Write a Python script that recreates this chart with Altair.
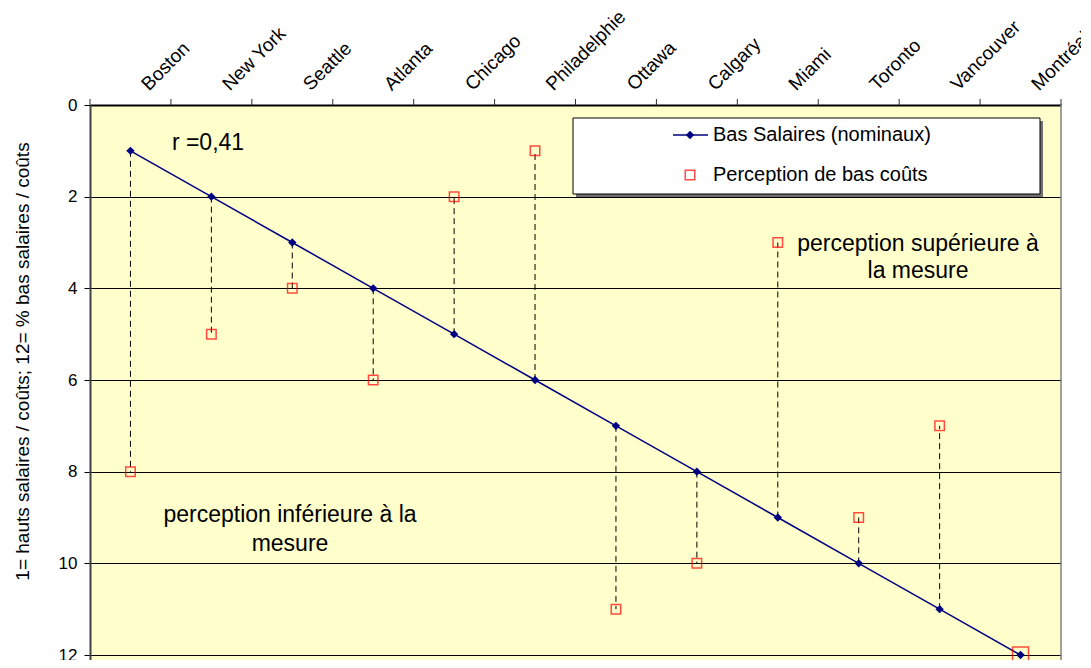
import altair as alt
import pandas as pd

cities = ["Boston", "New York", "Seattle", "Atlanta", "Chicago", "Philadelphie",
          "Ottawa", "Calgary", "Miami", "Toronto", "Vancouver", "Montréal"]
salaires = [1, 2, 3, 4, 5, 6, 7, 8, 9, 10, 11, 12]
perception = [8, 5, 4, 6, 2, 1, 11, 10, 3, 9, 7, 12]
highlight = [False] * 11 + [True]
y_ticks = [0, 2, 4, 6, 8, 10, 12]
edges = [i - 0.5 for i in range(13)]

df = pd.DataFrame({
    "idx": list(range(len(cities))),
    "city": cities,
    "sal": salaires,
    "perc": perception,
    "hl": highlight,
})
edges_df = pd.DataFrame({"e": edges})
one = pd.DataFrame({"a": [0]})

W, H = 971, 555
FONT = "Liberation Sans"

label_expr = "[" + ",".join('"%s"' % c for c in cities) + "][round(datum.value)]"

xscale = alt.Scale(domain=[-0.5, 11.5], nice=False, zero=False)
yscale = alt.Scale(domain=[0, 12.109], reverse=True, nice=False, zero=False)

x_axis = alt.Axis(
    orient="top", values=list(range(12)), labelExpr=label_expr, ticks=False,
    grid=False, labelAngle=-45, labelAlign="left", labelBaseline="alphabetic",
    labelPadding=14, labelOffset=18, labelFontSize=19, labelFont=FONT,
    labelColor="black", domainColor="black", domainWidth=2, title=None,
    labelOverlap=False, labelBound=False, labelFlush=False)
x_enc = alt.X("idx:Q", scale=xscale, axis=x_axis)
y_enc = alt.Y("sal:Q", scale=yscale, axis=alt.Axis(
    values=y_ticks, grid=True, gridColor="black", gridWidth=1, tickColor="black",
    tickSize=6, domainColor="#404040", domainWidth=2, labelFontSize=17,
    labelFont=FONT, labelColor="black", labelPadding=7,
    title="1=  hauts salaires / coûts; 12= % bas salaires / coûts",
    titleFontSize=19, titleFont=FONT, titleFontWeight="normal", titleColor="black",
    titleX=-58, titleY=256))

base = alt.Chart(df)

ticks = alt.Chart(edges_df).mark_rule(color="#303030", strokeWidth=1).encode(
    x=alt.X("e:Q", scale=xscale, axis=x_axis),
    y=alt.value(-6), y2=alt.value(0))

drops = base.mark_rule(color="black", strokeWidth=1, strokeDash=[6, 4]).encode(
    x=x_enc, y=y_enc, y2="perc:Q")

line = base.mark_line(color="#000080", strokeWidth=1.5).encode(x=x_enc, y=y_enc)

squares = base.mark_point(shape="square", filled=False, color="#FF0000",
                          strokeWidth=1.5).encode(
    x=x_enc,
    y=alt.Y("perc:Q", scale=yscale),
    size=alt.condition("datum.hl", alt.value(256), alt.value(90)))

diamonds = base.mark_point(shape="diamond", filled=True, color="#000080",
                           opacity=1).encode(x=x_enc, y=y_enc, size=alt.value(70))

# right border of plot area
rborder = alt.Chart(one).mark_rule(color="#808080", strokeWidth=1.5).encode(
    x=alt.value(W), y=alt.value(0), y2=alt.value(H))

# legend box
lg_shadow = alt.Chart(one).mark_rect(fill="#707070").encode(
    x=alt.value(486), x2=alt.value(953), y=alt.value(16), y2=alt.value(92))
lg_box = alt.Chart(one).mark_rect(fill="white", stroke="black", strokeWidth=1).encode(
    x=alt.value(483), x2=alt.value(950), y=alt.value(13), y2=alt.value(89))
lg_line = alt.Chart(one).mark_rule(color="#000080", strokeWidth=1.5).encode(
    x=alt.value(583), x2=alt.value(618), y=alt.value(30))
lg_dia = alt.Chart(one).mark_point(shape="diamond", filled=True, color="#000080",
                                   opacity=1).encode(
    x=alt.value(600), y=alt.value(30), size=alt.value(70))
lg_sq = alt.Chart(one).mark_point(shape="square", filled=False, color="#FF0000",
                                  strokeWidth=1.5).encode(
    x=alt.value(600), y=alt.value(70), size=alt.value(90))
lg_t1 = alt.Chart(one).mark_text(align="left", baseline="middle", fontSize=20,
                                 font=FONT, color="black").encode(
    x=alt.value(623), y=alt.value(30), text=alt.value("Bas Salaires (nominaux)"))
lg_t2 = alt.Chart(one).mark_text(align="left", baseline="middle", fontSize=20,
                                 font=FONT, color="black").encode(
    x=alt.value(623), y=alt.value(70), text=alt.value("Perception de bas coûts"))

r_txt = alt.Chart(one).mark_text(align="center", baseline="middle", fontSize=23,
                                 font=FONT, color="black").encode(
    x=alt.value(118), y=alt.value(38), text=alt.value("r =0,41"))
sup_txt = alt.Chart(one).mark_text(align="center", baseline="middle", fontSize=23,
                                   font=FONT, color="black", lineHeight=27).encode(
    x=alt.value(828), y=alt.value(139),
    text=alt.value(["perception supérieure à", "la mesure"]))
inf_txt = alt.Chart(one).mark_text(align="center", baseline="middle", fontSize=23,
                                   font=FONT, color="black", lineHeight=29).encode(
    x=alt.value(200), y=alt.value(410),
    text=alt.value(["perception inférieure à la", "mesure"]))

chart = alt.layer(
    ticks, drops, line, squares, diamonds, rborder,
    lg_shadow, lg_box, lg_line, lg_dia, lg_sq, lg_t1, lg_t2,
    r_txt, sup_txt, inf_txt,
).properties(
    width=W, height=H,
    autosize=alt.AutoSizeParams(type="none"),
    padding={"left": 82, "top": 97, "right": 20, "bottom": 0},
).configure_view(fill="#FFFFCC", stroke=None)

chart.save("out.html", embed_options={"renderer": "svg", "actions": False})
